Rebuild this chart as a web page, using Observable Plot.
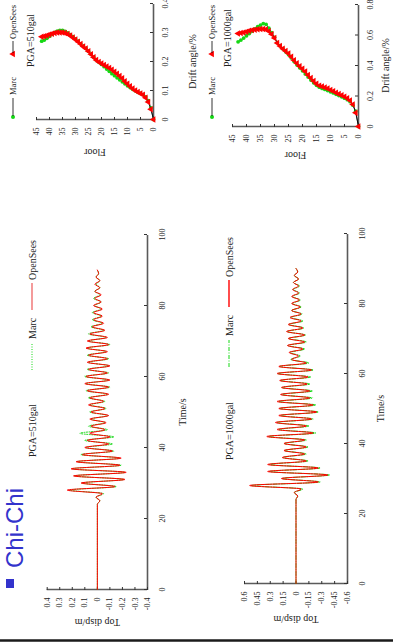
<!DOCTYPE html>
<html><head><meta charset="utf-8">
<script src="https://cdn.jsdelivr.net/npm/d3@7"></script>
<script src="https://cdn.jsdelivr.net/npm/@observablehq/plot@0.6"></script>
<style>
html,body{margin:0;padding:0;width:393px;height:643px;overflow:hidden;background:#fff}
#slide{position:absolute;left:0;top:0;width:643px;height:393px;transform-origin:0 0;transform:translate(0px,643px) rotate(-90deg);background:#fff;font-family:"Liberation Serif",serif;overflow:hidden}
.chart{position:absolute}
.chart svg{overflow:visible;display:block}
g[aria-label="x-axis label"], g[aria-label="y-axis label"]{font-size:10px}
#overlay{position:absolute;left:0;top:0}
</style></head><body><div id="slide"></div>
<script>
// ---------- data ----------
const tsTime = [0,24,25,26,27,28,29,30,31,32,33,34,35,36,37,38,39,40,41,42,43,44,45,46,47,48,49,50,51,52,53,54,55,56,57,58,59,60,61,62,63,64,65,66,67,68,69,70,71,72,73,74,75,76,77,78,79,80,81,82,83,84,85,86,87,88,89,90];
const ts510Open = [0,0,-0.02,0.01,-0.04,0.24,-0.14,0.13,-0.22,0.19,-0.23,0.21,-0.18,0.17,-0.19,0.12,-0.12,0.10,-0.09,0.08,-0.10,0.06,-0.06,0.05,-0.07,0.06,-0.09,0.05,-0.06,0.07,-0.05,0.06,-0.09,0.08,-0.09,0.10,-0.10,0.09,-0.08,0.07,-0.10,0.08,-0.08,0.07,-0.08,0.09,-0.09,0.08,-0.08,0.06,-0.06,0.04,-0.05,0.03,-0.04,0.03,-0.04,0.03,-0.03,0.02,-0.03,0.02,-0.02,0.02,-0.02,0.01,-0.01,0];
const ts510Marc = [0,0,-0.02,0.01,-0.05,0.22,-0.15,0.12,-0.21,0.18,-0.22,0.20,-0.19,0.16,-0.18,0.13,-0.13,0.09,-0.12,0.10,-0.13,0.14,-0.08,0.07,-0.06,0.05,-0.08,0.06,-0.07,0.06,-0.06,0.07,-0.08,0.09,-0.10,0.09,-0.09,0.10,-0.09,0.08,-0.09,0.07,-0.09,0.08,-0.07,0.08,-0.10,0.07,-0.07,0.07,-0.05,0.05,-0.04,0.04,-0.03,0.04,-0.03,0.02,-0.03,0.03,-0.02,0.02,-0.02,0.01,-0.02,0.01,-0.01,0];
const ts1000Open = [0,0,-0.02,0.02,-0.06,0.54,-0.26,0.17,-0.37,0.33,-0.26,0.33,-0.12,0.16,-0.10,0.14,-0.12,0.14,-0.10,0.34,-0.20,0.22,-0.12,0.24,-0.18,0.20,-0.24,0.20,-0.20,0.22,-0.16,0.18,-0.16,0.17,-0.13,0.19,-0.14,0.22,-0.18,0.20,-0.12,0.05,-0.03,0.08,-0.08,0.10,-0.10,0.09,-0.10,0.11,-0.08,0.09,-0.06,0.07,-0.06,0.05,-0.05,0.05,-0.04,0.05,-0.03,0.04,-0.03,0.03,-0.03,0.02,-0.02,0];
const ts1000Marc = [0,0,-0.02,0.02,-0.08,0.52,-0.28,0.16,-0.39,0.31,-0.28,0.31,-0.14,0.15,-0.12,0.13,-0.14,0.13,-0.12,0.32,-0.23,0.20,-0.15,0.22,-0.20,0.18,-0.26,0.19,-0.23,0.20,-0.19,0.17,-0.19,0.16,-0.16,0.18,-0.17,0.21,-0.20,0.19,-0.15,0.06,-0.05,0.07,-0.10,0.09,-0.12,0.08,-0.11,0.10,-0.09,0.08,-0.08,0.06,-0.07,0.05,-0.06,0.04,-0.05,0.04,-0.04,0.03,-0.04,0.03,-0.03,0.02,-0.02,0];

const floors = [0,1,2,3,4,5,6,7,8,9,10,11,12,13,14,15,16,17,18,19,20,21,22,23,24,25,26,27,28,29,30,31,32,33,34,35,36,37,38,39,40,41,42,43];
const drift510Open = [0,0.035,0.06,0.075,0.085,0.09,0.095,0.10,0.107,0.115,0.123,0.132,0.142,0.150,0.158,0.165,0.172,0.178,0.183,0.188,0.193,0.198,0.205,0.215,0.225,0.235,0.245,0.252,0.260,0.268,0.276,0.283,0.290,0.295,0.298,0.300,0.300,0.300,0.298,0.296,0.293,0.290,0.287,0.285];
const drift510Marc = [0,0.04,0.065,0.078,0.086,0.09,0.094,0.099,0.104,0.11,0.116,0.123,0.13,0.137,0.144,0.151,0.158,0.166,0.174,0.182,0.19,0.197,0.205,0.215,0.225,0.235,0.245,0.253,0.261,0.27,0.278,0.286,0.293,0.299,0.304,0.307,0.307,0.305,0.30,0.294,0.287,0.28,0.274,0.27];
const drift1000Open = [0,0.09,0.145,0.170,0.185,0.196,0.205,0.213,0.222,0.232,0.240,0.250,0.256,0.262,0.268,0.280,0.298,0.318,0.338,0.360,0.378,0.395,0.415,0.435,0.457,0.478,0.495,0.51,0.528,0.547,0.58,0.605,0.625,0.637,0.64,0.64,0.638,0.635,0.632,0.628,0.622,0.617,0.613,0.610];
const drift1000Marc = [0,0.10,0.14,0.163,0.176,0.186,0.195,0.203,0.211,0.22,0.228,0.236,0.243,0.25,0.258,0.27,0.287,0.305,0.325,0.345,0.365,0.385,0.405,0.427,0.45,0.472,0.49,0.51,0.53,0.55,0.585,0.615,0.645,0.67,0.675,0.665,0.655,0.64,0.625,0.61,0.595,0.58,0.567,0.555];

const timeTicks = [0,20,40,60,80,100];
const disp510Ticks = [0.4,0.3,0.2,0.1,0,-0.1,-0.2,-0.3,-0.4];
const disp1000Ticks = [0.6,0.45,0.3,0.15,0,-0.15,-0.3,-0.45,-0.6];
const floorTicks = [0,5,10,15,20,25,30,35,40,45];
const drift510Ticks = [0,0.1,0.2,0.3,0.4];
const drift1000Ticks = [0,0.2,0.4,0.6,0.8];

const GREEN = "#14d814", RED = "#ff0000", AXIS = "#5a5a5a";
const slide = document.getElementById("slide");

function place(svg, left, top) {
  const d = document.createElement("div");
  d.className = "chart"; d.style.left = left + "px"; d.style.top = top + "px";
  d.appendChild(svg); slide.appendChild(d);
}
const baseStyle = {fontFamily: "Liberation Serif", fontSize: "8px", background: "transparent", color: "#222", overflow: "visible"};

function tsChart(o) {
  const rows = tsTime.map((t, i) => ({t, marc: o.marc[i], open: o.open[i]}));
  return Plot.plot({
    width: o.width, height: o.height,
    marginLeft: o.ml, marginRight: o.mr, marginTop: o.mt, marginBottom: o.mb,
    style: baseStyle,
    x: {domain: [0, 100]},
    y: {domain: [o.yTicks[o.yTicks.length - 1], o.yTicks[0]]},
    marks: [
      Plot.ruleX([0], {stroke: AXIS, strokeWidth: 1.6}),
      Plot.ruleY([o.yTicks[o.yTicks.length - 1]], {stroke: AXIS, strokeWidth: 1.6}),
      Plot.axisX(timeTicks, {tickSize: -3, tickPadding: 15, stroke: "#333", tickFormat: d => String(d), label: "Time/s", labelAnchor: "center", labelOffset: o.xlo, labelArrow: "none"}),
      Plot.axisY(o.yTicks, {tickSize: -3, tickPadding: 11, stroke: "#333", tickFormat: d => String(d), label: "Top disp/m", labelAnchor: "center", labelOffset: o.ylo, labelArrow: "none"}),
      Plot.line(rows, {x: "t", y: "marc", stroke: GREEN, strokeWidth: 1, strokeDasharray: o.dash, curve: "monotone-x"}),
      Plot.line(rows, {x: "t", y: "open", stroke: RED, strokeWidth: 1, curve: "monotone-x"})
    ]
  });
}

function driftChart(o) {
  const rows = floors.map((f, i) => ({f, marc: o.marc[i], open: o.open[i]}));
  return Plot.plot({
    width: o.width, height: o.height,
    marginLeft: o.ml, marginRight: o.mr, marginTop: o.mt, marginBottom: o.mb,
    style: baseStyle,
    x: {domain: [0, o.xTicks[o.xTicks.length - 1]]},
    y: {domain: [0, 45]},
    marks: [
      Plot.ruleX([0], {stroke: AXIS, strokeWidth: 1.6}),
      Plot.ruleY([0], {stroke: AXIS, strokeWidth: 1.6}),
      Plot.axisX(o.xTicks, {tickSize: -3, tickPadding: 12, stroke: "#333", tickFormat: d => String(d), label: "Drift angle/%", labelAnchor: "center", labelOffset: o.xlo, labelArrow: "none"}),
      Plot.axisY(floorTicks, {tickSize: -3, tickPadding: 11, stroke: "#333", tickFormat: d => String(d), label: "Floor", labelAnchor: "center", labelOffset: o.ylo, labelArrow: "none"}),
      Plot.line(rows, {x: "marc", y: "f", stroke: "#000", strokeWidth: 0.8}),
      Plot.dot(rows, {x: "marc", y: "f", fill: GREEN, r: 1.9, symbol: "circle"}),
      Plot.line(rows, {x: "open", y: "f", stroke: "#000", strokeWidth: 0.8}),
      Plot.dot(rows, {x: "open", y: "f", fill: RED, r: 2.4, symbol: "triangle"})
    ]
  });
}

place(tsChart({width: 420, height: 200, ml: 53, mr: 12, mt: 46.7, mb: 53, yTicks: disp510Ticks, marc: ts510Marc, open: ts510Open, dash: "1,1.5", xlo: 38, ylo: 37}), 0, 0);
place(tsChart({width: 420, height: 193, ml: 59, mr: 11, mt: 44, mb: 46, yTicks: disp1000Ticks, marc: ts1000Marc, open: ts1000Open, dash: "4,1.5,1,1.5", xlo: 36, ylo: 40}), 0, 200);
place(driftChart({width: 213, height: 200, ml: 93, mr: 4, mt: 36, mb: 47, xTicks: drift510Ticks, marc: drift510Marc, open: drift510Open, xlo: 42, ylo: 37}), 430, 0);
place(driftChart({width: 213, height: 193, ml: 86, mr: 5, mt: 32, mb: 35, xTicks: drift1000Ticks, marc: drift1000Marc, open: drift1000Open, xlo: 30, ylo: 33}), 430, 200);

// ---------- title, legends, border ----------
const ov = d3.select(slide).append("svg").attr("id", "overlay").attr("width", 643).attr("height", 393)
  .attr("font-family", "Liberation Serif").attr("fill", "#222");
ov.append("line").attr("x1", 2.5).attr("x2", 2.5).attr("y1", 0).attr("y2", 393).attr("stroke", "#1a1a1a").attr("stroke-width", 2.5);
ov.append("rect").attr("x", 55).attr("y", 6).attr("width", 9).attr("height", 8).attr("fill", "#3333cc");
ov.append("text").attr("x", 75).attr("y", 22.5).attr("font-family", "Liberation Sans").attr("font-size", 24).attr("fill", "#3333cc").text("Chi-Chi");

function tsLegend(y, pga, pgaX, mx, dash, redCol) {
  ov.append("text").attr("x", pgaX).attr("y", y + 3.5).attr("font-size", 10).text(pga);
  ov.append("line").attr("x1", mx).attr("x2", mx + 27).attr("y1", y).attr("y2", y).attr("stroke", GREEN).attr("stroke-dasharray", dash);
  ov.append("text").attr("x", mx + 31).attr("y", y + 3.5).attr("font-size", 10).text("Marc");
  ov.append("line").attr("x1", mx + 60).attr("x2", mx + 87).attr("y1", y).attr("y2", y).attr("stroke", redCol).attr("stroke-width", 1.4);
  ov.append("text").attr("x", mx + 90).attr("y", y + 3.5).attr("font-size", 10).text("OpenSees");
}
tsLegend(32, "PGA=510gal", 186, 273, "1,1.5", "#f07070");
tsLegend(229, "PGA=1000gal", 183, 276, "4,1.5,1,1.5", RED);

function driftLegend(y, pga, pgaY) {
  const sym = d3.symbol().type(d3.symbolTriangle).size(18);
  ov.append("circle").attr("cx", 526).attr("cy", y).attr("r", 2).attr("fill", GREEN);
  ov.append("line").attr("x1", 527).attr("x2", 545).attr("y1", y).attr("y2", y).attr("stroke", "#000").attr("stroke-width", 0.8);
  ov.append("text").attr("x", 548).attr("y", y + 3).attr("font-size", 8.5).text("Marc");
  ov.append("path").attr("d", sym()).attr("transform", `translate(589,${y})`).attr("fill", RED);
  ov.append("line").attr("x1", 590).attr("x2", 602).attr("y1", y).attr("y2", y).attr("stroke", "#000").attr("stroke-width", 0.8);
  ov.append("text").attr("x", 604).attr("y", y + 3).attr("font-size", 8.5).text("OpenSees");
  ov.append("text").attr("x", 576).attr("y", pgaY).attr("font-size", 10).text(pga);
}
driftLegend(13, "PGA=510gal", 34);
driftLegend(212, "PGA=1000gal", 231);
</script></body></html>
